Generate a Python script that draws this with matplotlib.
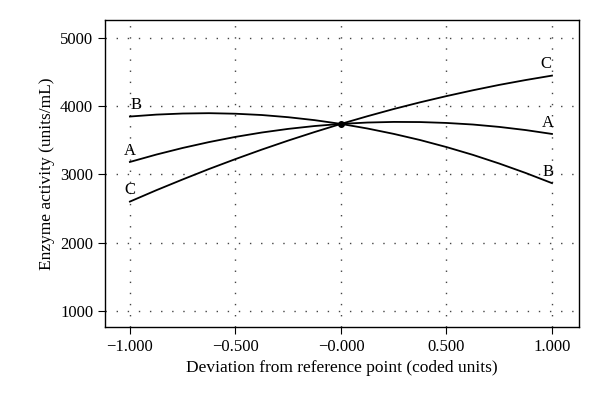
import matplotlib
matplotlib.use('Agg')
import matplotlib.pyplot as plt
from matplotlib.ticker import FuncFormatter

plt.rcParams['font.family'] = ['Liberation Serif', 'DejaVu Serif']

# deviation from reference point (coded units)
x = [-1.0, -0.875, -0.75, -0.625, -0.5, -0.375, -0.25, -0.125, 0.0,
     0.125, 0.25, 0.375, 0.5, 0.625, 0.75, 0.875, 1.0]
# enzyme activity
A = [3180, 3288, 3385, 3471, 3547, 3611, 3664, 3706, 3737,
     3757, 3766, 3764, 3751, 3728, 3693, 3647, 3590]
B = [3845, 3873, 3889, 3894, 3886, 3867, 3835, 3792, 3737,
     3670, 3591, 3501, 3398, 3284, 3157, 3019, 2870]
C = [2600, 2766, 2924, 3077, 3222, 3361, 3493, 3618, 3737,
     3849, 3955, 4053, 4144, 4229, 4308, 4379, 4444]
xticks = [-1.0, -0.5, 0.0, 0.5, 1.0]
yticks = [1000, 2000, 3000, 4000, 5000]

fig = plt.figure(figsize=(6, 4.15), dpi=100)
ax = fig.add_axes([0.175, 0.212, 0.79, 0.74])

label_dx = {'A': (0.0, -0.02), 'B': (0.03, -0.02), 'C': (0.0, -0.03)}
for name, y in [('A', A), ('B', B), ('C', C)]:
    ax.plot(x, y, color='black', linewidth=1.3)
    ax.text(x[0] + label_dx[name][0], y[0] + 50, name, ha='center', va='bottom', fontsize=12)
    ax.text(x[-1] + label_dx[name][1], y[-1] + 50, name, ha='center', va='bottom', fontsize=12)

ax.plot([x[8]], [A[8]], marker='o', color='black', markersize=4)

ax.set_xlim(-1.118, 1.128)
ax.set_ylim(764, 5259)
ax.set_xticks(xticks)
ax.set_yticks(yticks)

def fmt(v, pos):
    s = '%.3f' % abs(v)
    if v < 0 or (v == 0 and pos == 2):
        s = '\u2212' + s
    return s

ax.xaxis.set_major_formatter(FuncFormatter(fmt))
ax.tick_params(direction='out', length=5, labelsize=12, color='black')
ax.grid(True, linestyle=(0, (1, 7)), color='#444444', linewidth=1.0)
for sp in ax.spines.values():
    sp.set_linewidth(1.0)

ax.set_xlabel('Deviation from reference point (coded units)', fontsize=12.5)
ax.set_ylabel('Enzyme activity (units/mL)', fontsize=12.5)

fig.savefig('out.png', dpi=100)
